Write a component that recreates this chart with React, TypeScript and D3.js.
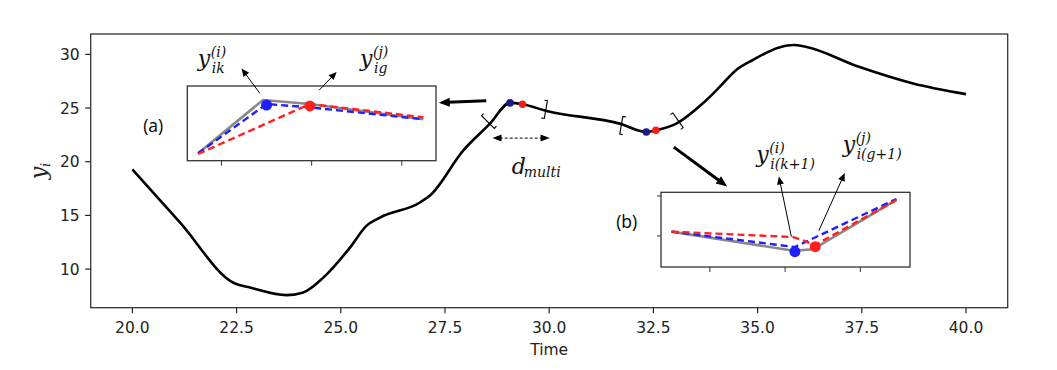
import React from "react";
import { scaleLinear, line, curveMonotoneX, curveLinear, format } from "d3";

// main series
const time = [20, 21.14, 22.46, 22.82, 23.7, 24.1, 24.58, 25.22, 25.62, 25.94, 26.9, 27.14, 27.94, 28.58, 29.06, 29.36, 29.94, 31.69, 32.33, 32.56, 33.05, 33.68, 34.09, 34.48, 34.88, 35.52, 35.87, 36.15, 37.43, 38.73, 40];
const yi = [19.28, 14.35, 8.65, 8.28, 7.57, 7.82, 9.2, 12.0, 14.05, 14.8, 16.2, 16.85, 21.06, 23.55, 25.48, 25.36, 24.73, 23.55, 22.77, 22.93, 23.55, 25.42, 26.97, 28.53, 29.47, 30.65, 30.87, 30.71, 28.84, 27.29, 26.3];

const blueT = [29.06, 32.33];
const blueV = [25.48, 22.77];
const redT = [29.36, 32.56];
const redV = [25.36, 22.93];

const xTicks = [20, 22.5, 25, 27.5, 30, 32.5, 35, 37.5, 40];
const yTicks = [10, 15, 20, 25, 30];

// window brackets on the curve
const bracketT = [28.53, 29.92, 31.73, 33.09];
const bracketV = [23.7, 24.86, 23.4, 23.86];
const bracketAngle = [-45, 10, 10, -35];
const bracketKind = ["[", "]", "[", "]"];

// inset (a)
const aGrayT = [28.37, 28.73, 28.99, 29.62];
const aGrayV = [20.69, 25.69, 25.31, 23.88];
const aBlueT = [28.37, 28.75, 28.99, 29.62];
const aBlueV = [20.69, 25.31, 25.0, 23.88];
const aRedT = [28.37, 28.99, 29.62];
const aRedV = [20.63, 25.31, 24.07];
const aDotT = [28.75, 28.99];
const aDotV = [25.22, 25.13];
const aTicks = [28.5, 29.0, 29.5];

// inset (b)
const bGrayT = [30.99, 32.61, 32.87, 33.98];
const bGrayV = [22.77, 21.58, 21.67, 24.75];
const bBlueT = [30.99, 32.63, 33.98];
const bBlueV = [22.77, 21.81, 24.81];
const bRedT = [30.99, 32.61, 32.9, 33.98];
const bRedV = [22.77, 22.43, 21.94, 24.75];
const bDotT = [32.63, 32.9];
const bDotV = [21.52, 21.83];
const bXTicks = [31.5, 32.5, 33.5];
const bYTicks = [22.5, 25];

const W = 1057;
const H = 370;
const M = { left: 90.7, right: 1007.7, top: 34, bottom: 307.7 };

const sans = "'DejaVu Sans', sans-serif";
const serif = "'DejaVu Serif', 'Liberation Serif', serif";

const zip = (a, b) => a.map((v, i) => [v, b[i]]);

function head(x1, y1, x2, y2, len, wid) {
  const a = Math.atan2(y2 - y1, x2 - x1);
  const bx = x2 - len * Math.cos(a), by = y2 - len * Math.sin(a);
  const nx = -Math.sin(a) * wid / 2, ny = Math.cos(a) * wid / 2;
  return `${x2},${y2} ${bx + nx},${by + ny} ${bx - nx},${by - ny}`;
}

const Arrow = ({ x1, y1, x2, y2, sw = 1, len = 8, wid = 7, dash = null, both = false }) => {
  const a = Math.atan2(y2 - y1, x2 - x1);
  const ex = x2 - len * 0.8 * Math.cos(a), ey = y2 - len * 0.8 * Math.sin(a);
  const sx = both ? x1 + len * 0.8 * Math.cos(a) : x1;
  const sy = both ? y1 + len * 0.8 * Math.sin(a) : y1;
  return (
    <g>
      <line x1={sx} y1={sy} x2={ex} y2={ey} stroke="black" strokeWidth={sw} strokeDasharray={dash} />
      <polygon points={head(x1, y1, x2, y2, len, wid)} fill="black" />
      {both && <polygon points={head(x2, y2, x1, y1, len, wid)} fill="black" />}
    </g>
  );
};

const MathLabel = ({ x, y, main, sup, sub, dx = 13 }) => (
  <g fontFamily={serif} fontStyle="italic" fill="#111">
    <text x={x} y={y} fontSize={22}>{main}</text>
    {sup && <text x={x + dx} y={y - 9} fontSize={14}>{sup}</text>}
    {sub && <text x={x + dx + 1} y={y + 7} fontSize={14}>{sub}</text>}
  </g>
);

function Inset({ box, xd, yd, gray, blue, red, dots, xt, yt }) {
  const sx = scaleLinear().domain(xd).range([box.x, box.x + box.w]);
  const sy = scaleLinear().domain(yd).range([box.y + box.h, box.y]);
  const ln = line().x((d) => sx(d[0])).y((d) => sy(d[1])).curve(curveLinear);
  return (
    <g>
      <rect x={box.x} y={box.y} width={box.w} height={box.h} fill="white" stroke="#333" strokeWidth={1.3} />
      {xt.map((t) => (
        <line key={t} x1={sx(t)} x2={sx(t)} y1={box.y + box.h} y2={box.y + box.h + 5} stroke="#333" />
      ))}
      {yt.map((t) => (
        <line key={t} x1={box.x} x2={box.x - 4} y1={sy(t)} y2={sy(t)} stroke="#333" />
      ))}
      <path d={ln(gray)} fill="none" stroke="#888" strokeWidth={2.6} />
      <path d={ln(blue)} fill="none" stroke="#1f1fff" strokeWidth={2.4} strokeDasharray="7,4" />
      <path d={ln(red)} fill="none" stroke="#ff2020" strokeWidth={2.4} strokeDasharray="7,4" />
      <circle cx={sx(dots[0][0])} cy={sy(dots[0][1])} r={5.5} fill="#1f1fff" />
      <circle cx={sx(dots[1][0])} cy={sy(dots[1][1])} r={5.5} fill="#ff2020" />
    </g>
  );
}

export default function App() {
  const x = scaleLinear().domain([19, 41]).range([M.left, M.right]);
  const y = scaleLinear().domain([6.4, 31.9]).range([M.bottom, M.top]);
  const curve = line().x((d) => x(d[0])).y((d) => y(d[1])).curve(curveMonotoneX);
  const fmt = format(".1f");
  const P = (t, v) => [x(t), y(v)];

  const arrow = (t1, v1, t2, v2, opts = {}) => {
    const [x1, y1] = P(t1, v1);
    const [x2, y2] = P(t2, v2);
    return <Arrow x1={x1} y1={y1} x2={x2} y2={y2} {...opts} />;
  };

  return (
    <svg width={W} height={H} style={{ position: "absolute", left: 0, top: 0, background: "white" }}>
      {/* axes frame */}
      <rect x={M.left} y={M.top} width={M.right - M.left} height={M.bottom - M.top} fill="none" stroke="#333" strokeWidth={1.3} />
      {xTicks.map((t) => (
        <g key={t}>
          <line x1={x(t)} x2={x(t)} y1={M.bottom} y2={M.bottom + 5.5} stroke="#222" strokeWidth={1.2} />
          <text x={x(t)} y={M.bottom + 25} textAnchor="middle" fontFamily={sans} fontSize={15.5} fill="#222">{fmt(t)}</text>
        </g>
      ))}
      {yTicks.map((t) => (
        <g key={t}>
          <line x1={M.left - 5.5} x2={M.left} y1={y(t)} y2={y(t)} stroke="#222" strokeWidth={1.2} />
          <text x={M.left - 11} y={y(t) + 5.5} textAnchor="end" fontFamily={sans} fontSize={15.5} fill="#222">{t}</text>
        </g>
      ))}
      <text x={(M.left + M.right) / 2} y={355} textAnchor="middle" fontFamily={sans} fontSize={15.5} fill="#222">Time</text>
      <g transform="translate(46,170) rotate(-90)" fontFamily={serif} fontStyle="italic" fill="#222">
        <text x={-3} y={0} fontSize={22} textAnchor="middle">y</text>
        <text x={3} y={4} fontSize={13}>i</text>
      </g>

      {/* main curve */}
      <path d={curve(zip(time, yi))} fill="none" stroke="black" strokeWidth={2.6} strokeLinejoin="round" />

      {bracketT.map((t, i) => {
        const [cx, cy] = P(t, bracketV[i]);
        const s = bracketKind[i] === "[" ? 3 : -3;
        return (
          <path key={i} transform={`translate(${cx},${cy}) rotate(${bracketAngle[i]})`}
            d={`M${s},-9 L0,-9 L0,9 L${s},9`} fill="none" stroke="black" strokeWidth={1.1} />
        );
      })}

      {blueT.map((t, i) => (
        <circle key={"b" + i} cx={x(t)} cy={y(blueV[i])} r={3.8} fill="#1a1a8c" />
      ))}
      {redT.map((t, i) => (
        <circle key={"r" + i} cx={x(t)} cy={y(redV[i])} r={3.8} fill="#ff1a1a" />
      ))}

      {/* insets */}
      <Inset box={{ x: 187.3, y: 86, w: 248.7, h: 74.7 }} xd={[28.31, 29.69]} yd={[20, 27]}
        gray={zip(aGrayT, aGrayV)} blue={zip(aBlueT, aBlueV)} red={zip(aRedT, aRedV)}
        dots={zip(aDotT, aDotV)} xt={aTicks} yt={[]} />
      <Inset box={{ x: 661, y: 192.3, w: 249, h: 74.7 }} xd={[30.85, 34.16]} yd={[20.56, 25.23]}
        gray={zip(bGrayT, bGrayV)} blue={zip(bBlueT, bBlueV)} red={zip(bRedT, bRedV)}
        dots={zip(bDotT, bDotV)} xt={bXTicks} yt={bYTicks} />

      {/* arrows */}
      {arrow(28.49, 25.68, 27.35, 25.5, { sw: 3, len: 11, wid: 9 })}
      {arrow(32.99, 21.36, 34.27, 17.69, { sw: 3, len: 11, wid: 9 })}
      {arrow(28.64, 22.2, 30.01, 22.2, { sw: 1, len: 9, wid: 7, dash: "3,2", both: true })}
      {arrow(23.06, 26.36, 22.62, 28.69, { sw: 1, len: 8, wid: 7 })}
      {arrow(24.48, 26.66, 24.9, 28.37, { sw: 1, len: 8, wid: 7 })}
      {arrow(35.81, 13.02, 35.51, 18.63, { sw: 1, len: 8, wid: 7 })}
      {arrow(36.47, 13.58, 37.09, 18.94, { sw: 1, len: 8, wid: 7 })}

      {/* labels */}
      <text x={x(20.5)} y={y(22.8)} textAnchor="middle" fontFamily="'Open Sans', sans-serif" fontSize={17.5}>(a)</text>
      <text x={x(31.86)} y={y(13.8)} textAnchor="middle" fontFamily="'Open Sans', sans-serif" fontSize={17.5}>(b)</text>
      <MathLabel x={x(21.57)} y={y(28.9)} main="y" sup="(i)" sub="ik" />
      <MathLabel x={x(25.46)} y={y(28.9)} main="y" sup="(j)" sub="ig" />
      <MathLabel x={x(34.97)} y={y(20.0)} main="y" sup="(i)" sub="i(k+1)" />
      <MathLabel x={x(37.04)} y={y(20.9)} main="y" sup="(j)" sub="i(g+1)" />
      <g fontFamily={serif} fontStyle="italic" fill="#111">
        <text x={x(29.1)} y={y(18.9)} fontSize={22}>d</text>
        <text x={x(29.39)} y={y(18.55)} fontSize={14}>multi</text>
      </g>
    </svg>
  );
}
